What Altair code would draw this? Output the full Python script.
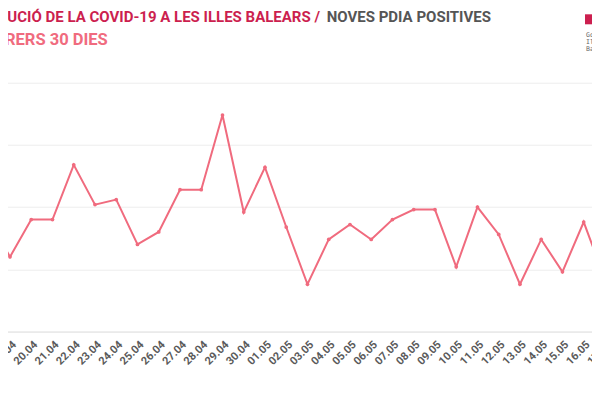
import altair as alt
import pandas as pd

# Data (daily new positive PDIA tests, last 30 days)
dates = ["18.04", "19.04", "20.04", "21.04", "22.04", "23.04", "24.04", "25.04",
         "26.04", "27.04", "28.04", "29.04", "30.04", "01.05", "02.05", "03.05",
         "04.05", "05.05", "06.05", "07.05", "08.05", "09.05", "10.05", "11.05",
         "12.05", "13.05", "14.05", "15.05", "16.05", "17.05"]
positives = [45, 30, 45, 45, 67, 51, 53, 35, 40, 57, 57, 87, 48, 66, 42, 19,
             37, 43, 37, 45, 49, 49, 26, 50, 39, 19, 37, 24, 44, 21]
y_ticks = [0, 25, 50, 75, 100]

title_red = "EVOLUCIÓ DE LA COVID-19 A LES ILLES BALEARS /"
title_gray = "NOVES PDIA POSITIVES"
subtitle = "DARRERS 30 DIES"
logo_lines = ["Govern", "Illes", "Balears"]

df = pd.DataFrame({"data": dates, "positius": positives})
one = pd.DataFrame({"k": [0]})

LINE = "#f06b7e"
RED = "#cc1f4f"
GRAY = "#555555"
FONT = "Roboto"

x = alt.X("data:O", sort=None, title=None,
          scale=alt.Scale(type="point", range=[-19.25, 596.95], padding=0),
          axis=alt.Axis(labelAngle=-45, labelOverlap=False, ticks=False,
                        domainColor="#e2e2e2", domainWidth=1, grid=False,
                        labelColor="#5a5a5a", labelFont=FONT, labelFontSize=11,
                        labelFontWeight="bold", labelPadding=7, labelBound=False,
                        labelFlush=False))
y = alt.Y("positius:Q", title=None,
          scale=alt.Scale(domain=[0, 100], nice=False),
          axis=alt.Axis(values=y_ticks, labels=False, ticks=False, domain=False,
                        grid=True, gridColor="#ededed", gridWidth=1))

base = alt.Chart(df)
line = base.mark_line(color=LINE, strokeWidth=2).encode(x=x, y=y)
pts = base.mark_circle(color=LINE, size=14, opacity=1).encode(x=x, y=y)

t1 = alt.Chart(one).mark_text(align="right", baseline="alphabetic", font=FONT,
                              fontWeight="bold", fontSize=15, color=RED).encode(
    x=alt.value(312), y=alt.value(-60.4), text=alt.value(title_red))
t2 = alt.Chart(one).mark_text(align="left", baseline="alphabetic", font=FONT,
                              fontWeight="bold", fontSize=15, color=GRAY).encode(
    x=alt.value(318.7), y=alt.value(-60.4), text=alt.value(title_gray))
t3 = alt.Chart(one).mark_text(align="right", baseline="alphabetic", font=FONT,
                              fontWeight="bold", fontSize=16.5, color=LINE).encode(
    x=alt.value(99.7), y=alt.value(-37.7), text=alt.value(subtitle))

logo_rect = alt.Chart(one).mark_rect(color=RED).encode(
    x=alt.value(577), x2=alt.value(584), y=alt.value(-68.4), y2=alt.value(-58.4))
logo_txt = [
    alt.Chart(one).mark_text(align="left", baseline="alphabetic", font="DejaVu Sans Mono",
                             fontSize=6.5, color="#666666").encode(
        x=alt.value(578), y=alt.value(yy), text=alt.value(tt))
    for tt, yy in zip(logo_lines, [-45.5, -38.5, -31.5])
]

chart = alt.layer(line, pts, t1, t2, t3, logo_rect, *logo_txt).properties(
    width=584, height=248.8,
    autosize=alt.AutoSizeParams(type="none"),
    padding={"left": 0, "top": 74.7, "right": 0, "bottom": 45},
    background="white",
).configure_view(stroke=None)

chart.save("out.html", embed_options={"renderer": "svg", "actions": False})
